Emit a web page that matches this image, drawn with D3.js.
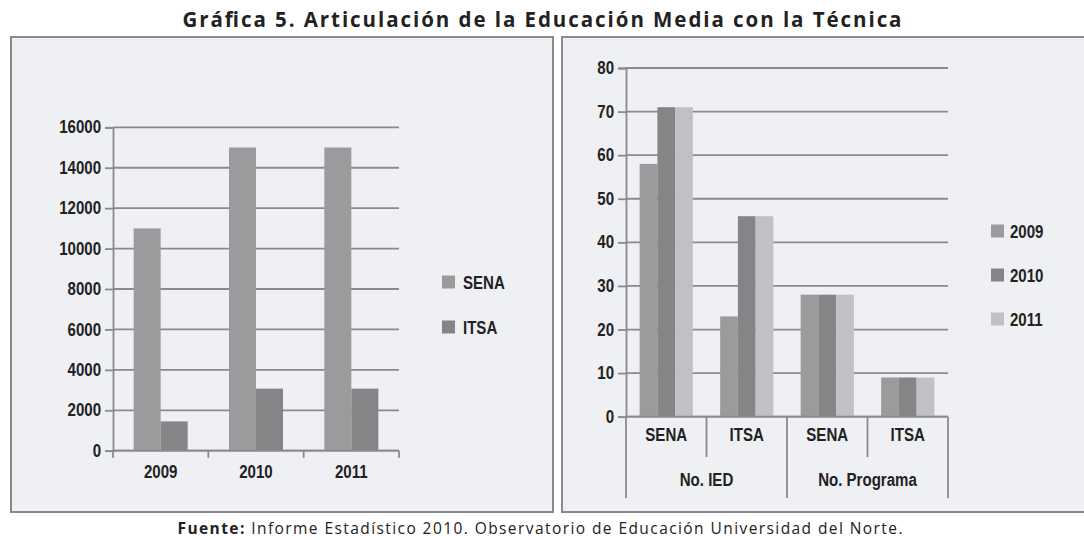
<!DOCTYPE html>
<html>
<head>
<meta charset="utf-8">
<script src="https://cdn.jsdelivr.net/npm/d3@7"></script>
<style>
  body { margin: 0; background: #fff; }
  svg text { fill: #222; }
  .tick-label { font-family: "Liberation Sans", Arial, sans-serif; font-weight: bold; font-size: 17.5px; }
  .ttl { font-family: "Open Sans", Lato, sans-serif; }
</style>
</head>
<body>
<svg width="1084" height="540"></svg>
<script>
// ---- data ----
const years = ["2009", "2010", "2011"];
const inst = ["SENA", "ITSA"];
const leftSENA = [11000, 15000, 15000];
const leftITSA = [1450, 3070, 3070];
const leftTicks = [0, 2000, 4000, 6000, 8000, 10000, 12000, 14000, 16000];

const rightGroups = ["No. IED", "No. Programa"];
const rightCats = ["SENA", "ITSA", "SENA", "ITSA"];
const right2009 = [58, 23, 28, 9];
const right2010 = [71, 46, 28, 9];
const right2011 = [71, 46, 28, 9];
const rightTicks = [0, 10, 20, 30, 40, 50, 60, 70, 80];

const colors = { a: "#9b9b9d", b: "#858587", c: "#c1c1c5" };
const bg = "#eff0f4", lineCol = "#8a8a8c";

const svg = d3.select("svg");

// title
svg.append("text").attr("class", "ttl")
    .attr("x", 542).attr("y", 27).attr("text-anchor", "middle")
    .style("font-size", "20.5px").style("font-weight", "bold")
    .attr("textLength", 719).attr("lengthAdjust", "spacing")
    .text("Gráfica 5. Articulación de la Educación Media con la Técnica");

// footer
const foot = svg.append("text").attr("class", "ttl")
    .attr("x", 540).attr("y", 534).attr("text-anchor", "middle")
    .style("font-size", "15.5px")
    .attr("textLength", 725).attr("lengthAdjust", "spacing");
foot.append("tspan").style("font-weight", "bold").text("Fuente: ");
foot.append("tspan").text("Informe Estadístico 2010. Observatorio de Educación Universidad del Norte.");

// panels
svg.append("rect").attr("x", 11).attr("y", 37).attr("width", 542).attr("height", 475)
    .attr("fill", bg).attr("stroke", lineCol).attr("stroke-width", 2);
svg.append("rect").attr("x", 562).attr("y", 37).attr("width", 530).attr("height", 475)
    .attr("fill", bg).attr("stroke", lineCol).attr("stroke-width", 2);

// ---------- left chart ----------
{
    const x0 = 113, x1 = 399, yTop = 127.3, yBot = 450.7;
    const x = d3.scaleBand().domain(years).range([x0, x1]);
    const xi = d3.scaleBand().domain(inst).range([0, x.bandwidth()]).paddingOuter(0.765);
    const y = d3.scaleLinear().domain([0, 16000]).range([yBot, yTop]);
    const g = svg.append("g");

    g.selectAll("line.grid").data(leftTicks).join("line")
        .attr("x1", x0).attr("x2", x1)
        .attr("y1", d => y(d)).attr("y2", d => y(d))
        .attr("stroke", lineCol).attr("stroke-width", 1.8);

    const rows = years.map((yr, i) => ({ yr, SENA: leftSENA[i], ITSA: leftITSA[i] }));
    g.selectAll("g.grp").data(rows).join("g")
        .attr("transform", d => `translate(${x(d.yr)},0)`)
      .selectAll("rect").data(d => inst.map(k => ({ k, v: d[k] }))).join("rect")
        .attr("x", d => xi(d.k)).attr("width", xi.bandwidth())
        .attr("y", d => y(d.v)).attr("height", d => yBot - y(d.v))
        .attr("fill", d => d.k === "SENA" ? colors.a : colors.b);

    const ya = g.append("g").attr("transform", `translate(${x0},0)`)
        .call(d3.axisLeft(y).tickValues(leftTicks).tickSize(8).tickPadding(4).tickFormat(d3.format("d")));
    ya.selectAll("line, path").attr("stroke", lineCol).attr("stroke-width", 1.8);
    ya.selectAll("text").attr("class", "tick-label").attr("fill", "#222");

    // x axis
    g.append("line").attr("x1", x0).attr("x2", x1).attr("y1", yBot).attr("y2", yBot)
        .attr("stroke", lineCol).attr("stroke-width", 1.8);
    g.selectAll("line.xt").data([...years.map(d => x(d)), x1]).join("line")
        .attr("x1", d => d).attr("x2", d => d).attr("y1", yBot).attr("y2", yBot + 7)
        .attr("stroke", lineCol).attr("stroke-width", 1.8);
    g.selectAll("text.xl").data(years).join("text").attr("class", "tick-label")
        .attr("x", d => x(d) + x.bandwidth() / 2).attr("y", 478).attr("text-anchor", "middle")
        .text(d => d);

    // legend
    const lg = g.selectAll("g.lg").data(inst).join("g")
        .attr("transform", (d, i) => `translate(442,${282 + i * 45})`);
    lg.append("rect").attr("x", 0).attr("y", -6.5).attr("width", 13).attr("height", 13)
        .attr("fill", d => d === "SENA" ? colors.a : colors.b);
    lg.append("text").attr("class", "tick-label").attr("x", 21).attr("y", 6.5).text(d => d);
}

// ---------- right chart ----------
{
    const x0 = 626, x1 = 948, yTop = 68, yBot = 416.7;
    const idx = rightCats.map((d, i) => i);
    const x = d3.scaleBand().domain(idx).range([x0, x1]);
    const series = [
        { k: "2009", v: right2009, c: colors.a },
        { k: "2010", v: right2010, c: colors.b },
        { k: "2011", v: right2011, c: colors.c }
    ];
    const xi = d3.scaleBand().domain(years).range([0, x.bandwidth()]).paddingOuter(0.77);
    const y = d3.scaleLinear().domain([0, 80]).range([yBot, yTop]);
    const g = svg.append("g");

    g.selectAll("line.grid").data(rightTicks).join("line")
        .attr("x1", x0).attr("x2", x1)
        .attr("y1", d => y(d)).attr("y2", d => y(d))
        .attr("stroke", lineCol).attr("stroke-width", 1.8);

    g.selectAll("g.grp").data(idx).join("g")
        .attr("transform", d => `translate(${x(d)},0)`)
      .selectAll("rect").data(i => series.map(s => ({ k: s.k, v: s.v[i], c: s.c }))).join("rect")
        .attr("x", d => xi(d.k)).attr("width", xi.bandwidth())
        .attr("y", d => y(d.v)).attr("height", d => yBot - y(d.v))
        .attr("fill", d => d.c);

    const ya = g.append("g").attr("transform", `translate(${x0},0)`)
        .call(d3.axisLeft(y).tickValues(rightTicks).tickSize(8).tickPadding(4));
    ya.selectAll("line, path").attr("stroke", lineCol).attr("stroke-width", 1.8);
    ya.selectAll("text").attr("class", "tick-label").attr("fill", "#222");

    // multi-level x axis
    g.append("line").attr("x1", x0).attr("x2", x1).attr("y1", yBot).attr("y2", yBot)
        .attr("stroke", lineCol).attr("stroke-width", 1.8);
    const bounds = [...idx.map(i => x(i)), x1];
    g.selectAll("line.xt").data(bounds).join("line")
        .attr("x1", d => d).attr("x2", d => d).attr("y1", yBot)
        .attr("y2", (d, i) => i % 2 === 0 ? 498 : 457)
        .attr("stroke", lineCol).attr("stroke-width", 1.8);
    g.selectAll("text.xl").data(idx).join("text").attr("class", "tick-label")
        .attr("x", i => x(i) + x.bandwidth() / 2).attr("y", 441).attr("text-anchor", "middle")
        .text(i => rightCats[i]);
    g.selectAll("text.gl").data(rightGroups).join("text").attr("class", "tick-label")
        .attr("x", (d, j) => x(j * 2) + x.bandwidth()).attr("y", 486).attr("text-anchor", "middle")
        .text(d => d);

    // legend
    const lg = g.selectAll("g.lg").data(series).join("g")
        .attr("transform", (d, i) => `translate(991,${231 + i * 44})`);
    lg.append("rect").attr("x", 0).attr("y", -6.5).attr("width", 13).attr("height", 13)
        .attr("fill", d => d.c);
    lg.append("text").attr("class", "tick-label").attr("x", 19).attr("y", 6.5).text(d => d.k);
}

// condense the bold labels a little, like a narrow face
svg.selectAll("text.tick-label").each(function () {
    const w = this.getComputedTextLength();
    d3.select(this).attr("textLength", w * 0.86).attr("lengthAdjust", "spacingAndGlyphs");
});
</script>
</body>
</html>
